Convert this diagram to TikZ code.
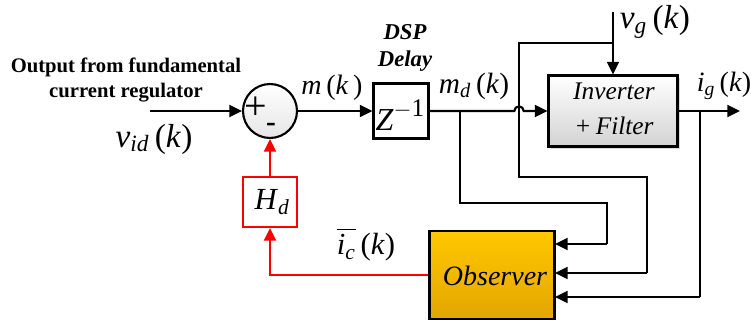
\documentclass[tikz,border=0pt]{standalone}
\usepackage{amsmath}
\usepackage{fontspec}
\setmainfont{Liberation Serif}[
  ItalicFont={Liberation Serif Italic},
  BoldFont={Liberation Serif Bold},
  BoldItalicFont={Liberation Serif Bold Italic}]
\usetikzlibrary{arrows.meta,positioning,shadows}

\newcommand{\sigk}[2]{\textit{#1}\textsubscript{\textit{#2}}\,(\textit{k})}

\begin{document}
\begin{tikzpicture}[
    x=0.75pt, y=-0.75pt,
    blk/.style={draw, line width=1.6pt, inner sep=0pt, align=center},
    arr/.style={-{Triangle[length=9.5pt,width=9pt]}, line width=1.6pt},
    ln/.style={line width=1.6pt},
    sig/.style={font=\fontsize{21}{23}\selectfont},
    txt/.style={font=\itshape\fontsize{19}{26}\selectfont, align=center},
    sign/.style={inner sep=0pt},
  ]
  \useasboundingbox (0,0) rectangle (751,325);

  % forward path
  \node[font=\bfseries\fontsize{15.5}{18.75}\selectfont, align=center] (src) at (126,80) {Output from fundamental\\current regulator};
  \coordinate (in) at (150,111);
  \node[blk, circle, minimum size=40.5pt, top color=white, bottom color=gray!20] (sum) at (270,111) {};
  \node[sign, font=\fontsize{30}{30}\selectfont] (plus) at (256,108) {+};
  \node[sign, font=\bfseries\fontsize{22}{22}\selectfont] (minus) at (271,127) {-};
  \node[sig, font=\fontsize{25}{27}\selectfont] (vid) at (154,139) {\sigk{v}{id}};

  \node[blk, minimum width=41.25pt, minimum height=41.25pt] (dly) at (401,111) {};
  \node[font=\fontsize{24}{26}\selectfont] (zinv) at (400,115) {\textit{Z}\raisebox{10pt}{\fontsize{19}{19}\selectfont$-$1}};
  \node[font=\bfseries\itshape\fontsize{17}{20}\selectfont, align=center] (dsp) at (405,48) {DSP\\Delay};
  \node[sig] (mk) at (332,88) {\textit{m}\,(\textit{k}\,)};
  \node[sig, font=\fontsize{22}{24}\selectfont] (mdk) at (474,86) {\sigk{m}{d}};

  \node[blk, minimum width=96.75pt, minimum height=53.25pt, top color=white, bottom color=gray!35,
        drop shadow={shadow xshift=1.5pt, shadow yshift=-1.5pt, opacity=0.3}] (inv) at (613,111) {};
  \node[txt] (invtxt) at (614,109) {Inverter\\+\,Filter};
  \coordinate (vgin) at (613,12);
  \node[sig, font=\fontsize{25}{27}\selectfont] (vgk) at (655,22) {\sigk{v}{g}};
  \coordinate (out) at (740,111);
  \node[sig] (igk) at (724,86) {\sigk{i}{g}};

  % observer and feedback
  \node[blk, minimum width=93.75pt, minimum height=66pt,
        top color={rgb,255:red,255;green,200;blue,0}, bottom color={rgb,255:red,226;green,166;blue,0}] (obs) at (492,275) {};
  \node[txt, font=\itshape\fontsize{21}{23}\selectfont] (obstxt) at (495,276) {Observer};
  \node[blk, draw=red, minimum width=40.5pt, minimum height=37.5pt] (hd) at (270,202) {};
  \node[font=\fontsize{23}{25}\selectfont] (hdtxt) at (272,202) {\textit{H}\textsubscript{\textit{d}}};
  \node[sig, font=\fontsize{23}{25}\selectfont] (ick) at (366,244) {$\overline{\textit{i}_{\textit{c}}}$\,(\textit{k})};

  \coordinate (mdb) at (460,111);
  \coordinate (hop) at (519,111);
  \coordinate (vgb) at (613,43);
  \coordinate (igb) at (700,111);
  \coordinate (o1) at (555,244);
  \coordinate (o2) at (555,273);
  \coordinate (o3) at (555,297);

  \draw[arr] (in) -- (sum);
  \draw[arr] (sum) -- (dly);
  \draw[arr] (dly) -- ([xshift=-3.5pt]hop) arc[start angle=180, end angle=0, radius=3.5pt] -- (inv);
  \draw[arr] (vgin) -- (inv);
  \draw[arr] (inv) -- (out);

  \draw[ln] (vgb) -| (519,177) -| (647,273);
  \draw[arr] (647,273) -- (o2);
  \draw[ln] (mdb) |- (607,203) -- (607,244);
  \draw[arr] (607,244) -- (o1);
  \draw[ln] (igb) |- (700,297);
  \draw[arr] (700,297) -- (o3);

  \draw[arr, red] (obs.west) -| (hd);
  \draw[arr, red] (hd) -- (sum);
\end{tikzpicture}
\end{document}
